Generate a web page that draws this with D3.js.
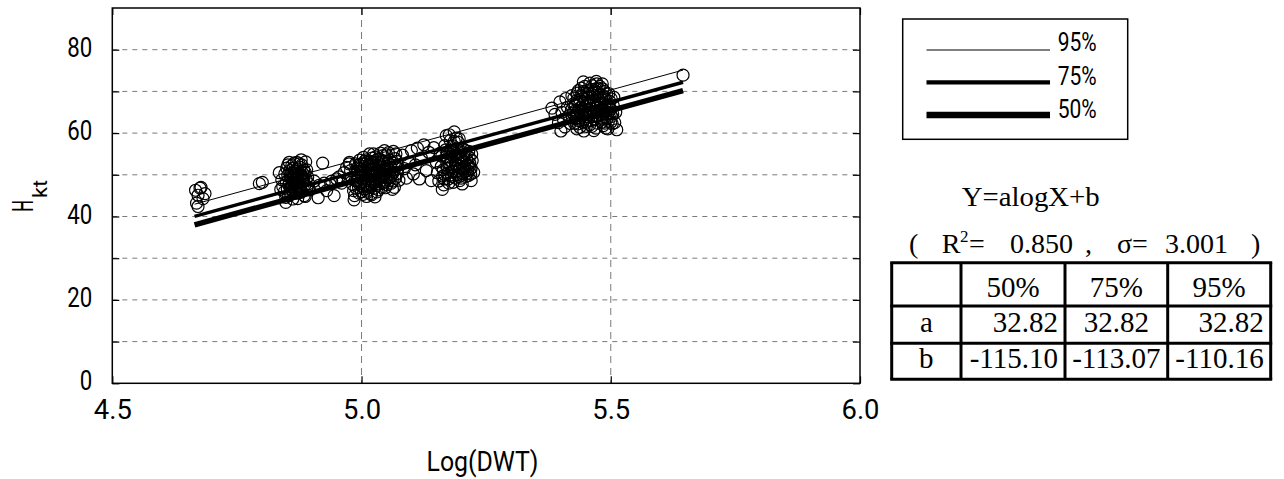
<!DOCTYPE html>
<html><head><meta charset="utf-8">
<script src="https://cdn.jsdelivr.net/npm/d3@7"></script>
<style>html,body{margin:0;padding:0;background:#fff;} svg{display:block;}</style>
</head><body><svg id="c" width="1284" height="479"></svg>
<script>
// ---------------- data ----------------
const points = [
  // cluster near 4.67
  [4.667,46.3],[4.676,46.8],[4.672,45.1],[4.682,44.3],[4.669,43.2],[4.672,42.4],[4.686,45.5],[4.678,47.0],
  [4.795,47.9],[4.801,48.2],
  // cluster near 4.86
  [4.835,50.5],[4.840,48.8],[4.842,47.2],[4.845,45.9],[4.848,44.6],[4.850,51.6],[4.852,49.9],[4.855,48.1],
  [4.857,46.7],[4.858,45.3],[4.860,52.2],[4.862,50.6],[4.864,49.0],[4.866,47.6],[4.868,46.2],[4.870,53.0],
  [4.871,51.4],[4.873,49.6],[4.875,48.3],[4.876,47.0],[4.878,45.8],[4.880,52.4],[4.882,50.4],[4.884,48.8],
  [4.886,47.4],[4.888,53.1],[4.890,51.2],[4.892,49.5],[4.894,47.9],[4.896,46.4],[4.848,43.4],[4.872,44.3],
  [4.838,46.5],[4.885,45.0],
  [4.846,50.2],[4.849,48.3],[4.851,46.6],[4.853,45.0],[4.856,51.0],[4.859,49.4],[4.861,47.8],[4.863,46.0],
  [4.865,52.8],[4.867,50.9],[4.869,49.3],[4.871,47.5],[4.874,45.7],[4.877,51.8],[4.879,50.0],[4.881,48.4],
  [4.883,46.7],[4.887,50.6],[4.889,49.0],[4.891,47.2],[4.855,53.0],[4.879,53.6],[4.862,44.2],[4.887,44.8],
  [4.868,48.0],[4.858,47.2],[4.877,49.0],[4.852,52.4],
  [4.854,47.5],[4.857,49.8],[4.860,46.5],[4.863,51.6],[4.866,48.6],[4.869,45.6],[4.872,50.2],[4.875,52.6],
  [4.878,47.2],[4.881,49.3],[4.884,51.2],[4.870,47.0],[4.860,48.8],[4.880,46.0],[4.865,50.0],
  // sparse 4.90-4.97
  [4.905,48.5],[4.913,44.5],[4.915,47.5],[4.922,52.8],[4.925,48.0],[4.930,46.2],[4.940,48.5],[4.945,45.0],
  [4.950,49.0],[4.955,49.5],[4.960,48.0],[4.965,50.5],[4.970,51.8],[4.975,52.6],
  // cluster near 5.02
  [4.978,51.0],[4.980,49.3],[4.982,47.7],[4.984,46.2],[4.986,45.0],[4.988,52.6],[4.990,50.2],[4.992,48.5],
  [4.994,47.0],[4.996,53.5],[4.998,51.5],[5.000,49.8],[5.000,46.0],[4.985,44.0],[4.976,53.0],
  [5.004,54.2],[5.006,52.0],[5.008,50.5],[5.010,49.0],[5.012,47.5],[5.014,46.3],[5.016,55.0],[5.018,53.2],
  [5.020,51.3],[5.022,49.6],[5.024,48.1],[5.026,46.8],[5.028,54.3],[5.030,52.4],[5.010,44.8],[5.020,45.2],
  [5.032,50.7],[5.034,49.2],[5.036,47.8],[5.038,55.2],[5.040,53.5],[5.042,51.7],[5.044,50.0],[5.046,48.4],
  [5.048,46.9],[5.050,54.8],[5.053,52.8],[5.056,51.2],[5.058,49.6],[5.060,48.0],[5.062,46.5],[5.064,55.6],
  [5.067,53.9],[5.070,52.0],[5.072,50.3],[5.075,48.7],
  [4.987,48.6],[4.989,46.8],[4.991,51.6],[4.993,49.4],[4.995,45.6],[4.997,50.6],[4.999,48.0],[5.001,52.6],
  [5.003,50.8],[5.005,48.3],[5.007,46.6],[5.009,53.6],[5.011,51.8],[5.013,50.0],[5.015,48.6],[5.017,47.0],
  [5.019,45.5],[5.021,54.0],[5.023,52.3],[5.025,50.5],[5.027,49.0],[5.029,47.4],[5.031,45.9],[5.033,53.8],
  [5.035,52.0],[5.037,50.4],[5.039,48.6],[5.041,47.0],[5.043,54.6],[5.045,52.7],[5.047,51.0],[5.049,49.3],
  [5.051,47.6],[5.054,55.3],[5.057,53.5],[5.059,51.8],[5.061,50.1],[5.063,48.5],[5.066,47.0],[5.069,55.0],
  [5.071,53.2],[5.073,51.5],[5.003,45.3],[5.027,44.7],[5.016,52.6],[5.040,49.5],[5.055,50.0],[4.995,52.4],
  [5.012,53.0],[5.034,46.4],
  [4.992,50.8],[4.996,47.8],[5.000,51.2],[5.002,47.2],[5.006,53.2],[5.008,49.4],[5.012,45.8],[5.014,51.2],
  [5.018,49.0],[5.020,47.6],[5.022,53.0],[5.026,51.6],[5.028,48.2],[5.030,50.0],[5.032,53.0],[5.036,49.0],
  [5.038,51.2],[5.042,48.0],[5.044,53.2],[5.048,50.2],[5.052,51.6],[5.056,48.6],[5.060,53.0],[5.064,50.6],
  [5.068,49.2],[5.024,55.0],[5.046,55.8],
  // scattered 5.08-5.14
  [5.082,54.7],[5.086,51.5],[5.090,49.2],[5.095,53.0],[5.100,55.8],[5.104,50.2],[5.108,52.4],[5.112,56.4],
  [5.116,49.0],[5.120,54.0],[5.125,57.2],[5.130,51.0],[5.135,55.4],[5.140,48.6],
  // cluster near 5.19
  [5.150,53.0],[5.152,50.5],[5.155,48.5],[5.158,55.2],[5.160,52.0],[5.163,49.7],[5.165,47.6],[5.167,57.0],
  [5.170,54.3],[5.172,51.5],[5.174,49.0],[5.176,59.6],[5.178,56.0],[5.180,53.3],[5.182,50.8],[5.184,48.2],
  [5.186,60.3],[5.188,55.0],[5.190,52.5],[5.192,50.0],[5.194,57.8],[5.196,54.0],[5.198,51.6],[5.200,49.2],
  [5.202,47.8],[5.204,56.2],[5.206,53.2],[5.208,50.8],[5.210,55.0],[5.212,52.2],[5.214,49.8],[5.216,54.2],
  [5.218,51.4],[5.220,48.6],[5.222,53.4],[5.225,50.6],[5.170,59.4],[5.145,56.5],[5.162,46.5],
  [5.161,54.5],[5.164,51.2],[5.166,49.0],[5.169,56.0],[5.171,52.9],[5.173,50.4],[5.175,48.0],[5.177,55.0],
  [5.179,52.0],[5.181,49.6],[5.183,57.0],[5.185,54.3],[5.187,51.6],[5.189,49.2],[5.191,56.4],[5.193,53.6],
  [5.195,51.0],[5.197,48.6],[5.199,55.5],[5.201,52.8],[5.203,50.3],[5.205,54.8],[5.207,52.0],[5.209,49.6],
  [5.211,53.6],[5.213,51.0],[5.215,55.6],[5.217,52.8],[5.219,50.2],[5.221,55.0],[5.178,58.2],[5.190,58.8],
  [5.167,50.0],[5.172,55.2],[5.176,52.6],[5.180,50.0],[5.184,55.6],[5.188,52.8],[5.192,54.8],[5.196,49.6],
  [5.200,53.8],[5.204,51.4],[5.208,55.8],[5.212,50.4],[5.216,52.0],[5.220,51.6],[5.186,58.0],[5.196,58.6],
  // cluster near 5.46
  [5.382,66.0],[5.388,64.5],[5.395,62.5],[5.398,67.5],[5.402,65.0],[5.405,63.3],[5.408,61.5],[5.410,68.3],
  [5.413,66.2],[5.416,64.2],[5.419,62.3],[5.422,69.0],[5.425,67.0],[5.428,65.3],[5.430,63.5],[5.432,61.0],
  [5.435,70.2],[5.438,68.0],[5.440,66.2],[5.442,64.4],[5.444,62.6],[5.446,60.5],[5.448,71.2],[5.450,69.2],
  [5.452,67.4],[5.454,65.6],[5.456,63.8],[5.458,62.0],[5.460,70.5],[5.462,68.6],[5.464,66.8],[5.466,65.0],
  [5.468,63.2],[5.470,61.2],[5.472,71.8],[5.474,69.8],[5.476,68.0],[5.478,66.2],[5.480,64.4],[5.482,62.6],
  [5.484,70.6],[5.486,68.8],[5.488,67.0],[5.490,65.2],[5.492,63.4],[5.494,61.0],[5.496,69.5],[5.498,67.6],
  [5.500,65.8],[5.502,64.0],[5.505,66.6],[5.508,62.5],[5.512,60.8],[5.445,72.3],[5.400,60.5],
  [5.421,65.6],[5.423,63.8],[5.426,68.4],[5.427,62.4],[5.429,66.6],[5.431,64.8],[5.433,69.6],[5.434,62.2],
  [5.436,67.2],[5.437,65.4],[5.439,63.6],[5.441,70.8],[5.443,68.8],[5.445,67.0],[5.447,65.2],[5.449,63.4],
  [5.451,61.6],[5.453,70.2],[5.455,68.4],[5.457,66.6],[5.459,64.8],[5.461,63.0],[5.463,71.4],[5.465,69.6],
  [5.467,67.8],[5.469,66.0],[5.471,64.2],[5.473,62.4],[5.475,70.8],[5.477,69.0],[5.479,67.2],[5.481,65.4],
  [5.483,63.6],[5.485,61.8],[5.487,70.0],[5.489,68.2],[5.491,66.4],[5.493,64.6],[5.495,62.8],[5.497,66.0],
  [5.499,64.6],[5.501,68.2],[5.503,62.2],[5.471,72.4],[5.458,72.0],[5.483,71.8],[5.438,61.4],[5.466,60.6],
  [5.490,61.2],[5.452,64.0],[5.467,70.2],[5.480,66.8],
  [5.424,64.8],[5.428,66.8],[5.432,67.8],[5.436,63.0],[5.440,69.0],[5.444,65.8],[5.448,68.0],[5.450,62.6],
  [5.454,69.6],[5.456,67.0],[5.460,66.0],[5.462,61.6],[5.464,64.0],[5.468,69.0],[5.472,66.6],[5.476,64.8],
  [5.478,71.2],[5.482,68.6],[5.486,64.8],[5.488,62.4],[5.492,69.4],[5.496,65.0],[5.500,62.6],[5.504,64.6],
  [5.506,68.6],[5.510,65.0],[5.446,70.0],[5.470,70.6],[5.458,67.2],[5.474,67.0],
  // single point at the far right
  [5.645,73.9]
];
const quantiles = ["50%", "75%", "95%"];
const coefA = [32.82, 32.82, 32.82];
const coefB = [-115.10, -113.07, -110.16];
const fitRange = [4.665, 5.645];
const r2 = 0.850;
const sigma = 3.001;
const xTickValues = [4.5, 5.0, 5.5, 6.0];
const yTickValues = [0, 10, 20, 30, 40, 50, 60, 70, 80];
const legendOrder = ["95%", "75%", "50%"];

// ---------------- drawing ----------------
const svg = d3.select("#c");
const L = 112.3, R = 860, T = 8, B = 383.3;
const x = d3.scaleLinear().domain([4.5, 6.0]).range([L, R]);
const y = d3.scaleLinear().domain([0, 90]).range([B, T]);
const SANS = "Roboto, 'Liberation Sans', sans-serif";
const SERIF = "'Liberation Serif', 'DejaVu Serif', serif";
const fmt2 = d => (d < 0 ? "-" : "") + Math.abs(d).toFixed(2);

// grid
svg.append("g").selectAll("line").data(yTickValues.filter(v => v > 0)).join("line")
  .attr("x1", L).attr("x2", R).attr("y1", d => y(d)).attr("y2", d => y(d))
  .attr("stroke", "#7a7a7a").attr("stroke-width", 1).attr("stroke-dasharray", "5,5");
svg.append("g").selectAll("line").data(xTickValues.filter(v => v > 4.5 && v < 6.0)).join("line")
  .attr("x1", d => x(d)).attr("x2", d => x(d)).attr("y1", T).attr("y2", B)
  .attr("stroke", "#7a7a7a").attr("stroke-width", 1).attr("stroke-dasharray", "7,5");

// axes
const yAxis = d3.axisLeft(y).tickValues(yTickValues).tickSizeInner(-7).tickSizeOuter(0).tickPadding(20)
  .tickFormat(d => d % 20 === 0 ? d3.format("d")(d) : "");
const gy = svg.append("g").attr("transform", `translate(${L},0)`).call(yAxis);
const yAxisR = d3.axisRight(y).tickValues(yTickValues).tickSizeInner(-7).tickSizeOuter(0).tickFormat("");
const gyr = svg.append("g").attr("transform", `translate(${R},0)`).call(yAxisR);
const xAxis = d3.axisBottom(x).tickValues(xTickValues).tickSizeInner(-7).tickSizeOuter(0).tickPadding(10)
  .tickFormat(d3.format(".1f"));
const gx = svg.append("g").attr("transform", `translate(0,${B})`).call(xAxis);
const xAxisT = d3.axisTop(x).tickValues(xTickValues).tickSizeInner(-7).tickSizeOuter(0).tickFormat("");
const gxt = svg.append("g").attr("transform", `translate(0,${T})`).call(xAxisT);
[gy, gyr, gx, gxt].forEach(g => { g.select(".domain").remove(); g.selectAll(".tick line").attr("stroke", "#000").attr("stroke-width", 1.2); });

gy.selectAll("text").attr("dy", 6.5).attr("fill", "#000")
  .style("font-family", SANS).style("font-size", "28px")
  .each(function() { const t = d3.select(this).text(); if (t.length) d3.select(this).attr("textLength", 12.5 * t.length).attr("lengthAdjust", "spacingAndGlyphs"); });
gx.selectAll("text").attr("y", 35.7).attr("dy", 0).attr("fill", "#000")
  .style("font-family", SANS).style("font-size", "28px")
  .attr("textLength", 38).attr("lengthAdjust", "spacingAndGlyphs");

// frame
svg.append("rect").attr("x", L).attr("y", T).attr("width", R - L).attr("height", B - T)
  .attr("fill", "none").attr("stroke", "#000").attr("stroke-width", 1.5);

// scatter points
svg.append("g").selectAll("circle").data(points).join("circle")
  .attr("cx", d => x(d[0])).attr("cy", d => y(d[1])).attr("r", 6)
  .attr("fill", "none").attr("stroke", "#000").attr("stroke-width", 1.2);

// fitted quantile lines
const lineW = {"50%": 5.5, "75%": 3.5, "95%": 1};
const line = d3.line().x(d => x(d[0])).y(d => y(d[1]));
quantiles.forEach((q, i) => {
  const pts = fitRange.map(v => [v, coefA[i] * v + coefB[i]]);
  svg.append("path").attr("d", line(pts)).attr("fill", "none")
    .attr("stroke", "#000").attr("stroke-width", lineW[q]);
});

// axis titles
svg.append("text").attr("x", 482.5).attr("y", 470.5).attr("text-anchor", "middle")
  .style("font-family", SANS).style("font-size", "28px").attr("fill", "#000")
  .attr("textLength", 112).attr("lengthAdjust", "spacingAndGlyphs").text("Log(DWT)");
const yt = svg.append("g").attr("transform", "translate(33.3,196) rotate(-90)");
yt.append("text").attr("x", -15.7).attr("y", 0).style("font-family", SANS).style("font-size", "30px")
  .attr("fill", "#000").attr("textLength", 11.7).attr("lengthAdjust", "spacingAndGlyphs").text("H");
yt.append("text").attr("x", -2).attr("y", 13.4).style("font-family", SANS).style("font-size", "20px")
  .attr("fill", "#000").attr("textLength", 18).attr("lengthAdjust", "spacingAndGlyphs").text("kt");

// legend
const lg = svg.append("g");
lg.append("rect").attr("x", 902.7).attr("y", 19).attr("width", 225).attr("height", 120.3)
  .attr("fill", "none").attr("stroke", "#000").attr("stroke-width", 1.5);
const legY = [50, 82.3, 115], legTY = [50.5, 85, 118], legW = [1, 4.3, 6.5];
legendOrder.forEach((q, i) => {
  lg.append("line").attr("x1", 926.5).attr("x2", 1050).attr("y1", legY[i]).attr("y2", legY[i])
    .attr("stroke", "#000").attr("stroke-width", legW[i]);
  lg.append("text").attr("x", 1057.7).attr("y", legTY[i]).style("font-family", SANS).style("font-size", "25px")
    .attr("fill", "#000").attr("textLength", 39).attr("lengthAdjust", "spacingAndGlyphs").text(q);
});

// formula
svg.append("text").attr("x", 961.7).attr("y", 206).style("font-family", SERIF).style("font-size", "28px")
  .attr("fill", "#000").attr("textLength", 138).attr("lengthAdjust", "spacingAndGlyphs").text("Y=alogX+b");
const stat = [
  ["(", 909, 28], ["R", 941.7, 28], ["2", 960, 17, -11], ["=", 969, 28], [d3.format(".3f")(r2), 1010, 28],
  [",", 1085, 28], ["σ=", 1117, 28], [d3.format(".3f")(sigma), 1165, 28], [")", 1251, 28]
];
stat.forEach(s => {
  svg.append("text").attr("x", s[1]).attr("y", 253 + (s[3] || 0)).style("font-family", SERIF)
    .style("font-size", s[2] + "px").attr("fill", "#000").text(s[0]);
});

// table
const colE = [891.7, 961, 1065, 1167.7, 1270.7];
const rowE = [262.7, 306, 343.3, 379.3];
const tb = svg.append("g");
const rows = [
  ["", ...quantiles],
  ["a", ...coefA.map(fmt2)],
  ["b", ...coefB.map(fmt2)]
];
const rowBase = [297, 331.5, 368];
rows.forEach((r, ri) => {
  r.forEach((cell, ci) => {
    let xx, anchor;
    if (ri === 0 || ci === 0 || ci === 2) { xx = (colE[ci] + colE[ci + 1]) / 2; anchor = "middle"; }
    else { xx = colE[ci + 1] - 7; anchor = "end"; }
    tb.append("text").attr("x", xx).attr("y", rowBase[ri]).attr("text-anchor", anchor)
      .style("font-family", SERIF).style("font-size", "29px").attr("fill", "#000").text(cell);
  });
});
colE.forEach(cx => tb.append("line").attr("x1", cx).attr("x2", cx).attr("y1", rowE[0]).attr("y2", rowE[3])
  .attr("stroke", "#000").attr("stroke-width", 3));
rowE.forEach(ry => tb.append("line").attr("x1", colE[0] - 1.5).attr("x2", colE[4] + 1.5).attr("y1", ry).attr("y2", ry)
  .attr("stroke", "#000").attr("stroke-width", 3));
</script></body></html>
